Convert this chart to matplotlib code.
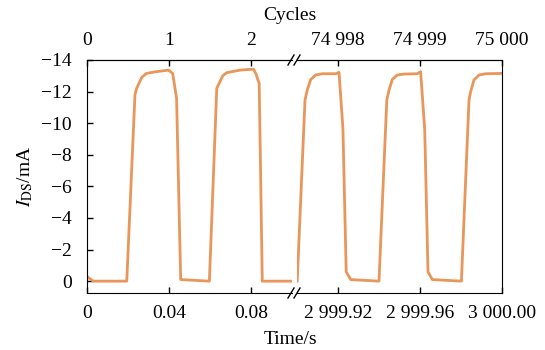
import matplotlib.pyplot as plt
from matplotlib.lines import Line2D

plt.rcParams['font.family'] = ['Liberation Serif', 'DejaVu Serif']
plt.rcParams['mathtext.fontset'] = 'stix'
plt.rcParams['font.size'] = 14

period = 0.04  # s per cycle

# Early cycles (time in s, drain current in mA)
left_t = [0.0, 0.003, 0.0194, 0.0234, 0.0242, 0.0267, 0.029, 0.0332, 0.0397, 0.0418,
          0.0437, 0.0457, 0.0597, 0.0633, 0.0662, 0.0682, 0.0747, 0.0812, 0.0825, 0.084,
          0.0855, 0.0994]
left_i = [-0.3, 0.0, 0.0, -11.8, -12.2, -12.9, -13.15, -13.25, -13.36, -13.15,
          -11.57, -0.1, 0.0, -12.2, -13.0, -13.2, -13.36, -13.42, -13.1, -12.5,
          0.0, 0.0]

# Last cycles
right_t = [2999.9001, 2999.9039, 2999.905, 2999.9067, 2999.9091, 2999.9123, 2999.9189,
           2999.9205, 2999.9224, 2999.924, 2999.9262, 2999.94, 2999.9438, 2999.9449,
           2999.9465, 2999.9489, 2999.9522, 2999.9587, 2999.9603, 2999.9623, 2999.9639,
           2999.966, 2999.9802, 2999.9839, 2999.9847, 2999.9863, 2999.9888, 2999.992,
           3000.0]
right_i = [0.0, -11.46, -12.1, -12.77, -13.05, -13.13, -13.13,
           -13.22, -9.67, -0.59, -0.1, 0.0, -11.46, -12.1,
           -12.77, -13.05, -13.11, -13.13, -13.26, -9.6, -0.59,
           -0.1, 0.0, -11.46, -11.99, -12.73, -13.05, -13.13,
           -13.15]

left_xticks = [0, 0.04, 0.08]
left_xlabels = ['0', '0.04', '0.08']
right_xticks = [2999.92, 2999.96, 3000.00]
right_xlabels = ['2 999.92', '2 999.96', '3 000.00']
left_cycles = [0, 1, 2]
right_cycles = [74998, 74999, 75000]
right_cycle_labels = ['74 998', '74 999', '75 000']
yticks = [-14, -12, -10, -8, -6, -4, -2, 0]

color = '#E8965A'
W, H = 545, 350
fig = plt.figure(figsize=(W / 100, H / 100), dpi=100)
bottom, top = 293, 60
ax1 = fig.add_axes([87 / W, 1 - bottom / H, (292 - 87) / W, (bottom - top) / H])
ax2 = fig.add_axes([297 / W, 1 - bottom / H, (502 - 297) / W, (bottom - top) / H])

ax1.plot(left_t, left_i, color=color, lw=2)
ax2.plot(right_t, right_i, color=color, lw=2)

ax1.set_xlim(0, 0.1)
ax2.set_xlim(2999.9, 3000.0)
for ax in (ax1, ax2):
    ax.set_ylim(0.75, -14)
    ax.tick_params(direction='in', length=4, width=1)
    ax.tick_params(axis='x', pad=9)
ax1.tick_params(axis='y', pad=11)
ax1.set_yticks(yticks)
ax1.set_yticklabels(['\u2212' + str(-v) if v < 0 else str(v) for v in yticks])
ax1.set_xticks(left_xticks)
ax1.set_xticklabels(left_xlabels)
ax2.set_xticks(right_xticks)
ax2.set_xticklabels(right_xlabels)
ax2.set_yticks([])
ax1.spines['right'].set_visible(False)
ax2.spines['left'].set_visible(False)

f = (lambda t: t / period, lambda c: c * period)
sec1 = ax1.secondary_xaxis('top', functions=f)
sec1.set_xticks(left_cycles)
sec1.set_xticklabels([str(c) for c in left_cycles])
sec2 = ax2.secondary_xaxis('top', functions=f)
sec2.set_xticks(right_cycles)
sec2.set_xticklabels(right_cycle_labels)
for s in (sec1, sec2):
    s.tick_params(direction='in', length=4, width=1, pad=8)

ax1.set_ylabel(r'$I_{\mathrm{DS}}$/mA', labelpad=4)
fig.text(290 / W, 1 - 340 / H, 'Time/s', ha='center', va='center')
fig.text(290 / W, 1 - 15 / H, 'Cycles', ha='center', va='center')

# axis break marks
for y in (top, bottom):
    for x in (291, 297):
        fig.add_artist(Line2D([(x - 3) / W, (x + 3) / W],
                              [1 - (y + 5) / H, 1 - (y - 5) / H],
                              color='black', lw=1))

fig.savefig('out.png', dpi=100)
